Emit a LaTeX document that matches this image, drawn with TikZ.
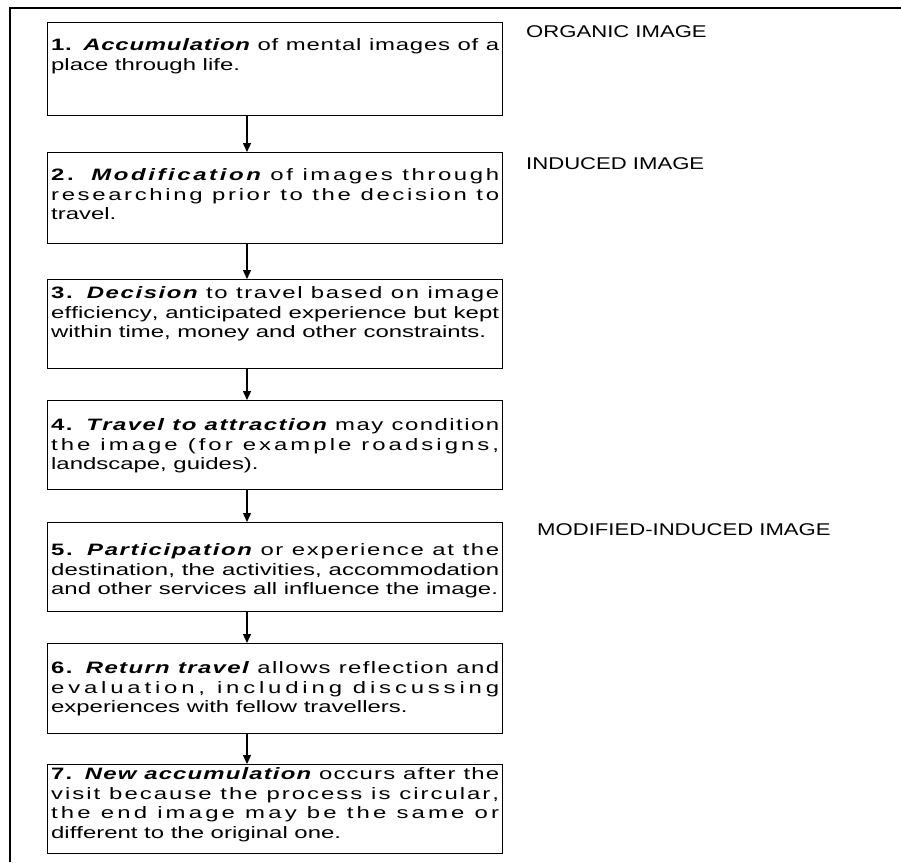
\documentclass[tikz,border=0pt]{standalone}
\usepackage{fontspec}
\usetikzlibrary{arrows.meta}

\newfontfamily\stagefont{Liberation Sans}[FakeStretch=1.45]
\newfontfamily\labelfont{Liberation Sans}[FakeStretch=1.3]
% spread letters a little when a line is justified
\XeTeXinterchartokenstate=1
\XeTeXinterchartoks 0 0 = {\nobreak\hskip 0pt plus 3pt}
\newcommand{\stagetext}[3]{\parbox[t][#1pt][t]{448pt}{\vspace*{#2pt}#3}}

\tikzset{
  stagebox/.style={draw, line width=1.3pt, anchor=north west, inner xsep=3.5pt,
    inner ysep=0pt, font=\stagefont\fontsize{16.5}{19.5}\selectfont},
  stagelabel/.style={anchor=north west, inner sep=0pt,
    font=\labelfont\fontsize{17}{20}\selectfont},
  flow/.style={line width=1.3pt, -{Triangle[length=9pt, width=8pt]}}
}

\begin{document}
\begin{tikzpicture}[x=1pt, y=-1pt]
    \useasboundingbox (0,0) rectangle (901,862);
    \draw[line width=1.5pt] (10,862) -- (10,8) -- (901,8);

    \node[stagebox] (s1) at (47,22) {\stagetext{93}{16}{\textbf{1. \textit{Accumulation}} of mental images of a\linebreak place through life.}};
    \node[stagebox] (s2) at (47,152) {\stagetext{91}{16}{\textbf{2. \textit{Modification}} of images through\linebreak researching prior to the decision to\linebreak travel.}};
    \node[stagebox] (s3) at (47,279) {\stagetext{89}{7}{\textbf{3. \textit{Decision}} to travel based on image\linebreak efficiency, anticipated experience but kept\linebreak within time, money and other constraints.}};
    \node[stagebox] (s4) at (47,400) {\stagetext{89}{18}{\textbf{4. \textit{Travel to attraction}} may condition\linebreak the image (for example roadsigns,\linebreak landscape, guides).}};
    \node[stagebox] (s5) at (47,522) {\stagetext{89}{21}{\textbf{5. \textit{Participation}} or experience at the\linebreak destination, the activities, accommodation\linebreak and other services all influence the image.}};
    \node[stagebox] (s6) at (47,643) {\stagetext{90}{18}{\textbf{6. \textit{Return travel}} allows reflection and\linebreak evaluation, including discussing\linebreak experiences with fellow travellers.}};
    \node[stagebox] (s7) at (47,764) {\stagetext{89}{3}{\textbf{7. \textit{New accumulation}} occurs after the\linebreak visit because the process is circular,\linebreak the end image may be the same or\linebreak different to the original one.}};

    \node[stagelabel] (organic) at (526,25) {ORGANIC IMAGE};
    \node[stagelabel] (induced) at (526,157) {INDUCED IMAGE};
    \node[stagelabel] (modified) at (537,523) {MODIFIED-INDUCED IMAGE};

    \coordinate (ax) at (247,0);
    \foreach \a/\b in {s1/s2, s2/s3, s3/s4, s4/s5, s5/s6, s6/s7}
        \draw[flow] (\a.south -| ax) -- (\b.north -| ax);
\end{tikzpicture}
\end{document}
